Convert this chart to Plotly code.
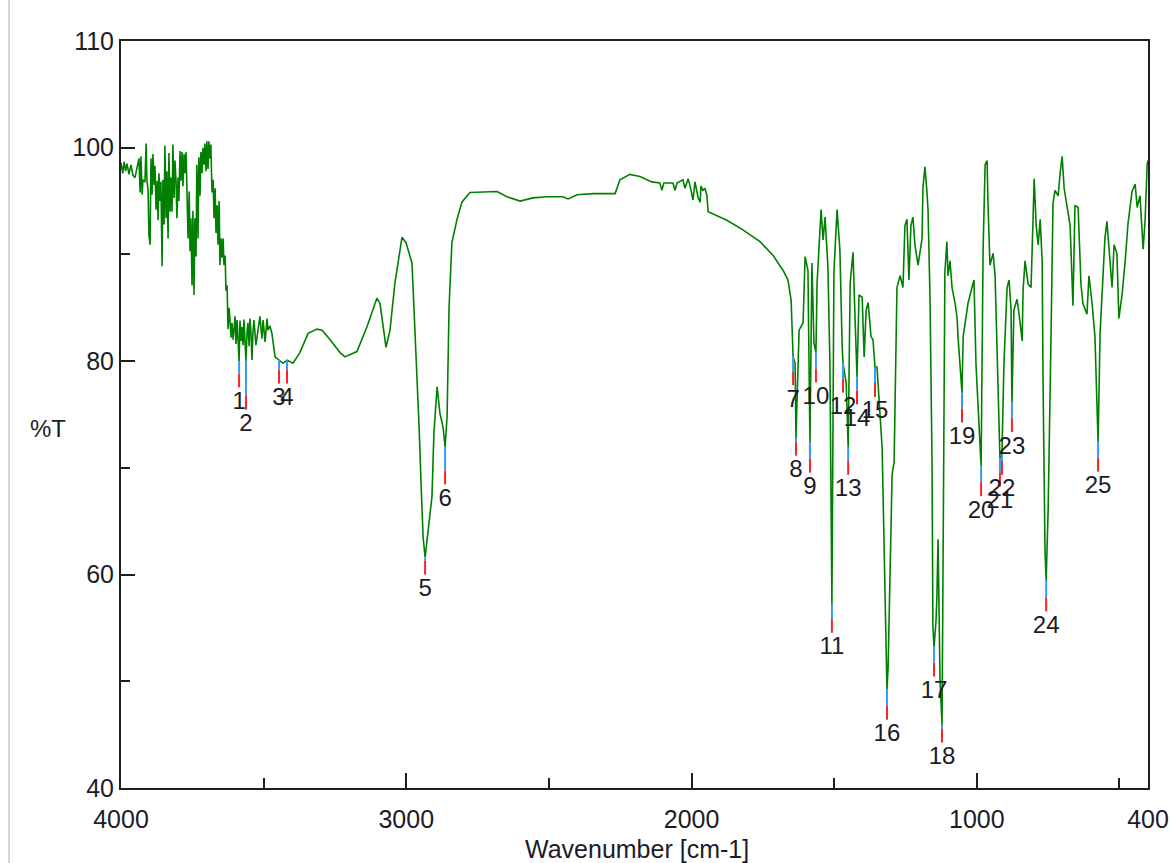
import plotly.graph_objects as go

# ---------------- data ----------------
wavenumber = [
    4000, 3994, 3989, 3984, 3979, 3972, 3965, 3958, 3951, 3944, 3937, 3933, 3930, 3926, 3923, 3916,
    3912, 3909, 3905, 3902, 3898, 3895, 3891, 3888, 3884, 3881, 3877, 3873, 3870, 3867, 3863, 3860,
    3856, 3853, 3849, 3846, 3842, 3839, 3835, 3832, 3828, 3825, 3821, 3818, 3814, 3811, 3807, 3804,
    3800, 3797, 3793, 3790, 3786, 3783, 3779, 3776, 3772, 3769, 3765, 3761, 3758, 3755, 3751, 3748,
    3744, 3741, 3737, 3734, 3730, 3727, 3723, 3720, 3716, 3713, 3709, 3706, 3702, 3699, 3695, 3692,
    3688, 3685, 3681, 3677, 3674, 3670, 3667, 3663, 3660, 3656, 3653, 3649, 3646, 3642, 3639, 3635,
    3632, 3628, 3625, 3621, 3618, 3614, 3611, 3607, 3600, 3597, 3593, 3590, 3586, 3583, 3579, 3576,
    3572, 3569, 3565, 3562, 3558, 3555, 3551, 3548, 3544, 3541, 3537, 3534, 3527, 3520, 3513, 3506,
    3502, 3495, 3488, 3485, 3478, 3471, 3460, 3446, 3432, 3418, 3397, 3373, 3344, 3313, 3295, 3267,
    3232, 3215, 3173, 3138, 3103, 3092, 3071, 3057, 3040, 3015, 3001, 2980, 2969, 2962, 2955, 2948,
    2941, 2934, 2924, 2910, 2903, 2892, 2882, 2871, 2864, 2857, 2850, 2840, 2822, 2805, 2777, 2717,
    2682, 2647, 2601, 2556, 2507, 2451, 2433, 2401, 2345, 2268, 2251, 2216, 2181, 2139, 2111, 2104,
    2097, 2065, 2058, 2051, 2030, 2023, 2012, 2005, 1995, 1988, 1977, 1970, 1967, 1960, 1953, 1946,
    1942, 1876, 1820, 1760, 1714, 1679, 1662, 1651, 1644, 1637, 1634, 1623, 1609, 1602, 1592, 1585,
    1578, 1571, 1564, 1560, 1546, 1539, 1532, 1522, 1515, 1508, 1501, 1490, 1480, 1472, 1469, 1458,
    1451, 1444, 1434, 1427, 1420, 1413, 1402, 1395, 1388, 1381, 1371, 1364, 1357, 1350, 1339, 1332,
    1329, 1322, 1315, 1311, 1304, 1297, 1290, 1283, 1280, 1269, 1259, 1252, 1245, 1238, 1231, 1224,
    1217, 1206, 1192, 1189, 1182, 1175, 1171, 1164, 1157, 1154, 1150, 1143, 1140, 1136, 1129, 1122,
    1119, 1115, 1112, 1105, 1101, 1094, 1087, 1076, 1069, 1066, 1052, 1048, 1041, 1031, 1017, 1010,
    1003, 996, 985, 978, 971, 964, 961, 954, 943, 936, 929, 922, 919, 912, 905, 894,
    887, 880, 877, 870, 859, 852, 841, 838, 831, 820, 810, 803, 799, 792, 785, 778,
    771, 768, 761, 757, 750, 740, 733, 726, 715, 708, 701, 694, 684, 673, 663, 656,
    645, 635, 628, 614, 607, 596, 586, 579, 575, 568, 558, 551, 544, 537, 526, 519,
    509, 502, 491, 480, 470, 456, 445, 438, 428, 417, 410, 403, 400,
]
transmittance = [
    98.6, 97.6, 98.7, 97.8, 98.5, 97.5, 98.4, 97.4, 97.2, 98.1, 99.0, 95.8, 99.2, 95.6, 97.0, 96.8,
    100.4, 96.9, 96.0, 91.8, 90.9, 99.0, 95.6, 99.4, 96.5, 98.3, 94.2, 96.9, 93.2, 97.6, 95.0, 96.8,
    88.9, 97.0, 92.8, 100.2, 93.4, 97.8, 91.5, 99.5, 94.0, 97.2, 94.0, 100.3, 95.3, 98.8, 96.8, 93.4,
    97.2, 95.0, 99.7, 96.9, 99.6, 96.4, 99.4, 97.6, 99.6, 96.3, 91.5, 95.9, 90.3, 93.4, 87.1, 94.1,
    86.2, 93.4, 89.8, 98.4, 91.5, 99.1, 95.5, 99.6, 97.6, 100.0, 98.4, 100.4, 97.8, 100.6, 98.0, 100.6,
    99.0, 100.3, 95.8, 97.0, 93.4, 96.2, 92.0, 94.6, 90.9, 95.0, 89.0, 91.5, 89.7, 91.5, 89.0, 89.9,
    86.6, 87.1, 83.0, 85.0, 84.1, 82.2, 83.6, 82.0, 84.2, 81.6, 83.85, 82.4, 80.0, 83.8, 81.9, 83.2,
    81.5, 83.9, 82.0, 80.0, 82.8, 83.6, 81.4, 84.0, 82.5, 80.1, 82.9, 83.85, 81.5, 82.9, 84.2, 82.1,
    83.85, 81.8, 84.0, 82.9, 83.3, 82.6, 80.4, 80.1, 79.8, 80.1, 79.8, 80.8, 82.6, 83.0, 82.9, 82.0,
    80.8, 80.4, 80.9, 83.2, 85.9, 85.4, 81.3, 82.9, 87.3, 91.6, 91.1, 89.2, 82.9, 79.2, 73.8, 68.4,
    63.5, 61.6, 63.9, 67.3, 73.3, 77.6, 75.1, 73.8, 71.95, 74.8, 85.1, 91.1, 93.3, 94.9, 95.8, 95.9,
    95.9, 95.4, 95.0, 95.3, 95.4, 95.4, 95.2, 95.6, 95.7, 95.7, 97.0, 97.5, 97.3, 96.8, 96.7, 96.0,
    96.7, 96.7, 96.0, 96.7, 97.0, 96.2, 97.1, 96.4, 95.1, 96.8, 95.3, 94.9, 96.4, 96.0, 96.2, 95.5,
    94.0, 93.2, 92.3, 91.2, 89.9, 88.5, 87.6, 85.7, 80.4, 79.8, 72.8, 82.9, 83.6, 89.8, 88.5, 72.3,
    89.2, 81.7, 80.8, 87.3, 94.2, 91.35, 93.5, 88.8, 79.8, 57.15, 88.3, 94.2, 90.4, 81.3, 79.8, 77.95,
    71.95, 87.3, 90.2, 84.1, 78.5, 86.2, 86.0, 80.4, 84.8, 85.5, 82.3, 82.0, 79.45, 79.45, 75.1, 71.9,
    67.9, 58.1, 49.2, 51.3, 60.4, 69.4, 70.5, 80.9, 86.9, 88.0, 86.9, 92.7, 93.3, 87.6, 92.7, 93.5,
    90.9, 89.0, 91.5, 96.2, 98.2, 95.9, 94.1, 85.8, 70.45, 55.1, 53.2, 55.7, 57.9, 63.3, 50.1, 45.9,
    63.2, 81.2, 88.3, 91.2, 88.0, 89.4, 86.9, 85.4, 84.0, 82.3, 77.0, 82.3, 83.7, 85.4, 86.9, 87.6,
    79.7, 76.2, 70.1, 90.5, 98.4, 98.8, 94.8, 89.0, 90.1, 88.0, 80.3, 73.2, 70.9, 71.2, 79.7, 86.9,
    87.6, 84.8, 76.1, 84.8, 85.8, 84.4, 81.9, 86.6, 89.4, 87.2, 86.9, 93.3, 97.1, 92.7, 90.9, 93.3,
    89.4, 78.3, 62.2, 59.5, 66.1, 82.3, 94.8, 96.0, 95.5, 97.6, 99.2, 96.2, 94.4, 92.7, 85.2, 94.6,
    94.4, 87.2, 85.4, 84.4, 88.0, 85.4, 82.3, 74.8, 72.4, 82.6, 87.2, 91.5, 93.1, 90.5, 86.9, 90.9,
    90.1, 84.0, 86.2, 89.4, 92.9, 95.9, 96.6, 94.4, 95.5, 90.5, 93.3, 98.4, 98.8,
]

peak_numbers = [str(i) for i in range(1, 26)]
peak_wn = [3586, 3562, 3446, 3418, 2934, 2864, 1644, 1634, 1585, 1564, 1508, 1469, 1451,
           1420, 1357, 1315, 1150, 1122, 1052, 985, 919, 912, 877, 757, 575]
peak_T = [80.0, 80.0, 80.1, 80.1, 61.6, 71.95, 80.4, 72.8, 72.3, 80.8, 57.15, 79.8, 71.95,
          78.5, 79.45, 49.2, 53.2, 45.9, 77.0, 70.1, 70.9, 71.2, 76.1, 59.5, 72.4]
# where each peak number label sits (in %T)
label_T = [76.1, 74.0, 76.45, 76.45, 58.55, 67.0, 76.3, 69.7, 68.1, 76.55, 53.1, 75.6, 67.9,
           74.5, 75.2, 44.95, 49.0, 42.8, 72.8, 65.9, 66.8, 67.9, 71.9, 55.1, 68.2]

x_ticks = [4000, 3000, 2000, 1000, 400]
x_minor = [3500, 2500, 1500, 500]
y_ticks = [40, 60, 80, 100, 110]
y_minor = [50, 70, 90]

# ---------------- styling ----------------
FONT = "Liberation Sans, Arial, sans-serif"
TXT = "#1c1c28"
AX = "#202020"
RED_TOP = 2.75   # marker offsets above the label (in %T)
RED_BOT = 1.45

blue_x, blue_y, red_x, red_y = [], [], [], []
for w, t, lt in zip(peak_wn, peak_T, label_T):
    top = lt + RED_TOP
    if t > top:
        blue_x += [w, w, None]
        blue_y += [t, top, None]
    red_x += [w, w, None]
    red_y += [min(t, top), lt + RED_BOT, None]

fig = go.Figure()
fig.add_trace(go.Scatter(x=wavenumber, y=transmittance, mode="lines",
                         line=dict(color="#008000", width=1.6), hoverinfo="skip"))
fig.add_trace(go.Scatter(x=blue_x, y=blue_y, mode="lines",
                         line=dict(color="#3399ff", width=2), hoverinfo="skip"))
fig.add_trace(go.Scatter(x=red_x, y=red_y, mode="lines",
                         line=dict(color="#ff2020", width=2), hoverinfo="skip"))
fig.add_trace(go.Scatter(x=peak_wn, y=label_T, mode="text", text=peak_numbers,
                         textposition="middle center",
                         textfont=dict(family=FONT, size=24, color=TXT), hoverinfo="skip"))

fig.update_layout(
    width=1170, height=863,
    margin=dict(l=121, r=22, t=41, b=75, autoexpand=False),
    paper_bgcolor="white", plot_bgcolor="white",
    showlegend=False,
    font=dict(family=FONT, size=24, color=TXT),
    xaxis=dict(range=[4000, 400], showgrid=False, zeroline=False, automargin=False,
               showline=True, linecolor=AX, linewidth=2, mirror=True,
               ticks="inside", tickvals=x_ticks, ticktext=[str(v) for v in x_ticks],
               ticklen=15, tickwidth=2, tickcolor=AX, ticklabelstandoff=8,
               tickfont=dict(family=FONT, size=25, color=TXT),
               minor=dict(tickvals=x_minor, ticks="inside", ticklen=10, tickwidth=2, tickcolor=AX)),
    yaxis=dict(range=[40, 110], showgrid=False, zeroline=False, automargin=False,
               showline=True, linecolor=AX, linewidth=2, mirror=True,
               ticks="inside", tickvals=y_ticks, ticktext=[str(v) for v in y_ticks],
               ticklen=14, tickwidth=2, tickcolor=AX,
               tickfont=dict(family=FONT, size=25, color=TXT),
               minor=dict(tickvals=y_minor, ticks="inside", ticklen=9, tickwidth=2, tickcolor=AX)),
    annotations=[
        dict(text="%T", xref="paper", yref="paper", x=-0.0715, y=0.481,
             xanchor="center", yanchor="middle", showarrow=False,
             font=dict(family=FONT, size=24, color=TXT)),
        dict(text="Wavenumber [cm-1]", xref="paper", yref="paper", x=0.502, y=-0.081,
             xanchor="center", yanchor="middle", showarrow=False,
             font=dict(family=FONT, size=25, color=TXT)),
    ],
    shapes=[
        dict(type="line", xref="paper", yref="paper", x0=-0.109, x1=-0.109, y0=-0.11, y1=1.06,
             line=dict(color="#d4d4d4", width=2)),
    ],
)

fig.write_html("out.html")
